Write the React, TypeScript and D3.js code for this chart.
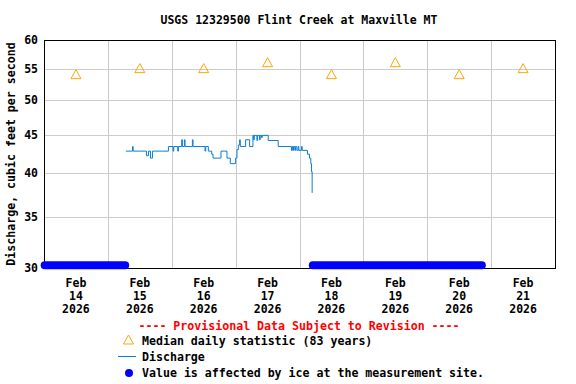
import React, { useEffect, useRef } from "react"
import * as d3 from "d3"

const WIDTH = 576
const HEIGHT = 384
const MARGIN = { top: 40, right: 21, bottom: 116, left: 44 }
const FONT = "'DejaVu Sans Mono', monospace"

const parse = d3.timeParse("%Y-%m-%d %H:%M")

const dayLabels = ["14", "15", "16", "17", "18", "19", "20", "21"]
const dayDates = [
    "2026-02-14",
    "2026-02-15",
    "2026-02-16",
    "2026-02-17",
    "2026-02-18",
    "2026-02-19",
    "2026-02-20",
    "2026-02-21",
]
const medianValues = [54, 55, 55, 56, 54, 56, 54, 55]
const yTicks = [30, 35, 40, 45, 50, 55, 60]

// discharge, 15-min readings (only the points where the value changes)
const dischargeTimes = [
    "2026-02-15 06:45", "2026-02-15 09:15", "2026-02-15 09:30", "2026-02-15 14:30",
    "2026-02-15 15:15", "2026-02-15 16:00", "2026-02-15 16:45", "2026-02-15 22:45",
    "2026-02-16 00:30", "2026-02-16 00:45", "2026-02-16 02:15", "2026-02-16 02:30",
    "2026-02-16 03:45", "2026-02-16 04:00", "2026-02-16 04:45", "2026-02-16 05:00",
    "2026-02-16 07:45", "2026-02-16 08:00", "2026-02-16 12:30", "2026-02-16 12:45",
    "2026-02-16 13:45", "2026-02-16 15:00", "2026-02-16 15:30", "2026-02-16 18:30",
    "2026-02-16 20:45", "2026-02-16 22:00", "2026-02-17 00:00", "2026-02-17 00:30",
    "2026-02-17 01:00", "2026-02-17 01:30", "2026-02-17 01:45", "2026-02-17 03:45",
    "2026-02-17 05:15", "2026-02-17 06:30", "2026-02-17 06:45", "2026-02-17 07:00",
    "2026-02-17 08:00", "2026-02-17 08:15", "2026-02-17 09:00", "2026-02-17 09:15",
    "2026-02-17 09:45", "2026-02-17 10:00", "2026-02-17 12:15", "2026-02-17 16:00",
    "2026-02-17 21:00", "2026-02-17 21:15", "2026-02-17 21:30", "2026-02-17 21:45",
    "2026-02-17 22:15", "2026-02-17 22:30", "2026-02-17 23:00", "2026-02-17 23:30",
    "2026-02-17 23:45", "2026-02-18 00:45", "2026-02-18 01:00", "2026-02-18 03:00",
    "2026-02-18 03:45", "2026-02-18 04:15", "2026-02-18 04:30", "2026-02-18 04:45",
]
const dischargeValues = [
    42.8, 43.4, 42.8, 42.2,
    42.8, 41.9, 42.8, 43.4,
    42.8, 43.4, 42.8, 43.4,
    44.3, 43.4, 44.3, 43.4,
    44.3, 43.4, 42.8, 43.4,
    42.8, 42.4, 41.9, 42.8,
    41.9, 41.2, 41.9, 43.0,
    43.6, 44.3, 43.4, 44.3,
    43.4, 44.9, 44.3, 44.9,
    44.2, 44.9, 44.3, 44.9,
    44.6, 44.9, 44.2, 43.4,
    42.9, 43.4, 42.9, 43.4,
    42.9, 43.4, 42.9, 43.4,
    42.9, 43.4, 42.9, 42.4,
    41.9, 41.2, 40.2, 37.7,
]

// ice-affected periods, drawn along the bottom of the axis
const iceStarts = ["2026-02-14 00:15", "2026-02-18 05:00"]
const iceEnds = ["2026-02-15 06:30", "2026-02-20 20:30"]
const ICE_LEVEL = 30.25

const App: React.FC = () => {
    const svgRef = useRef<SVGSVGElement | null>(null)

    useEffect(() => {
        document.body.style.margin = "0"
        if (!svgRef.current) return
        const svg = d3.select(svgRef.current)
        svg.selectAll("*").remove()

        const innerWidth = WIDTH - MARGIN.left - MARGIN.right
        const innerHeight = HEIGHT - MARGIN.top - MARGIN.bottom

        const x = d3
            .scaleTime()
            .domain([parse("2026-02-14 00:00")!, parse("2026-02-22 00:00")!])
            .range([MARGIN.left, MARGIN.left + innerWidth])
        const y = d3
            .scaleLog()
            .domain([30, 60])
            .range([MARGIN.top + innerHeight, MARGIN.top])

        // background
        svg.append("rect")
            .attr("width", WIDTH)
            .attr("height", HEIGHT)
            .attr("fill", "#fff")

        // title
        svg.append("text")
            .attr("x", 299)
            .attr("y", 24)
            .attr("text-anchor", "middle")
            .attr("font-family", FONT)
            .attr("font-weight", "bold")
            .attr("font-size", 11.5)
            .text("USGS 12329500 Flint Creek at Maxville MT")

        // grid
        const grid = svg.append("g").attr("stroke", "#cccccc").attr("stroke-width", 1)
        dayDates.slice(1).forEach(d => {
            const gx = Math.round(x(parse(d + " 00:00")!)) + 0.5
            grid.append("line")
                .attr("x1", gx).attr("x2", gx)
                .attr("y1", MARGIN.top).attr("y2", MARGIN.top + innerHeight)
        })
        yTicks.slice(1, -1).forEach(t => {
            const gy = Math.round(y(t)) + 0.5
            grid.append("line")
                .attr("x1", MARGIN.left).attr("x2", MARGIN.left + innerWidth)
                .attr("y1", gy).attr("y2", gy)
        })

        // frame
        svg.append("rect")
            .attr("x", MARGIN.left + 0.5)
            .attr("y", MARGIN.top + 0.5)
            .attr("width", innerWidth)
            .attr("height", innerHeight)
            .attr("fill", "none")
            .attr("stroke", "#000")

        // y tick labels
        svg.append("g")
            .selectAll("text")
            .data(yTicks)
            .enter()
            .append("text")
            .attr("x", 38)
            .attr("y", d => y(d) + 4)
            .attr("text-anchor", "end")
            .attr("font-family", FONT)
            .attr("font-weight", "bold")
            .attr("font-size", 11.5)
            .text(d => String(d))

        // y axis title
        svg.append("text")
            .attr("transform", `translate(15, ${MARGIN.top + innerHeight / 2}) rotate(-90)`)
            .attr("text-anchor", "middle")
            .attr("font-family", FONT)
            .attr("font-weight", "bold")
            .attr("font-size", 11.6)
            .text("Discharge, cubic feet per second")

        // x tick labels
        const xl = svg.append("g")
            .attr("font-family", FONT)
            .attr("font-weight", "bold")
            .attr("font-size", 11.5)
            .attr("text-anchor", "middle")
        dayDates.forEach((d, i) => {
            const cx = x(parse(d + " 12:00")!)
            xl.append("text").attr("x", cx).attr("y", 287).text("Feb")
            xl.append("text").attr("x", cx).attr("y", 300).text(dayLabels[i])
            xl.append("text").attr("x", cx).attr("y", 313).text("2026")
        })

        // discharge line
        const points = dischargeTimes.map((t, i) => ({ t: parse(t)!, v: dischargeValues[i] }))
        const line = d3
            .line<{ t: Date; v: number }>()
            .x(d => x(d.t))
            .y(d => y(d.v))
            .curve(d3.curveStepAfter)
        svg.append("path")
            .datum(points)
            .attr("d", line)
            .attr("fill", "none")
            .attr("stroke", "#0a7ed4")
            .attr("stroke-width", 1)

        // ice-affected values
        iceStarts.forEach((s, i) => {
            svg.append("line")
                .attr("x1", x(parse(s)!))
                .attr("x2", x(parse(iceEnds[i])!))
                .attr("y1", y(ICE_LEVEL))
                .attr("y2", y(ICE_LEVEL))
                .attr("stroke", "#0000ff")
                .attr("stroke-width", 8)
                .attr("stroke-linecap", "round")
        })

        // median triangles
        const tri = (cx: number, cy: number) =>
            `M${cx},${cy - 5}L${cx + 5},${cy + 4}L${cx - 5},${cy + 4}Z`
        svg.append("g")
            .selectAll("path")
            .data(medianValues)
            .enter()
            .append("path")
            .attr("d", (d, i) => tri(x(parse(dayDates[i] + " 12:00")!), y(d)))
            .attr("fill", "none")
            .attr("stroke", "#ffa500")
            .attr("stroke-width", 1)

        // legend
        const lg = svg.append("g")
            .attr("font-family", FONT)
            .attr("font-weight", "bold")
            .attr("font-size", 11.6)
        lg.append("text")
            .attr("x", 299)
            .attr("y", 330)
            .attr("text-anchor", "middle")
            .attr("fill", "#ff0000")
            .text("---- Provisional Data Subject to Revision ----")
        lg.append("path").attr("d", tri(128.5, 340)).attr("fill", "none").attr("stroke", "#ffa500")
        lg.append("text").attr("x", 142).attr("y", 344.5).text("Median daily statistic (83 years)")
        lg.append("line")
            .attr("x1", 118).attr("x2", 136)
            .attr("y1", 356.5).attr("y2", 356.5)
            .attr("stroke", "#0a7ed4")
        lg.append("text").attr("x", 142).attr("y", 360.5).text("Discharge")
        lg.append("circle").attr("cx", 129).attr("cy", 373).attr("r", 4).attr("fill", "#0000ff")
        lg.append("text").attr("x", 142).attr("y", 377).text("Value is affected by ice at the measurement site.")
    }, [])

    return (
        <div style={{ position: "absolute", left: 0, top: 0 }}>
            <svg ref={svgRef} width={WIDTH} height={HEIGHT} style={{ display: "block" }} />
        </div>
    )
}

export default App
